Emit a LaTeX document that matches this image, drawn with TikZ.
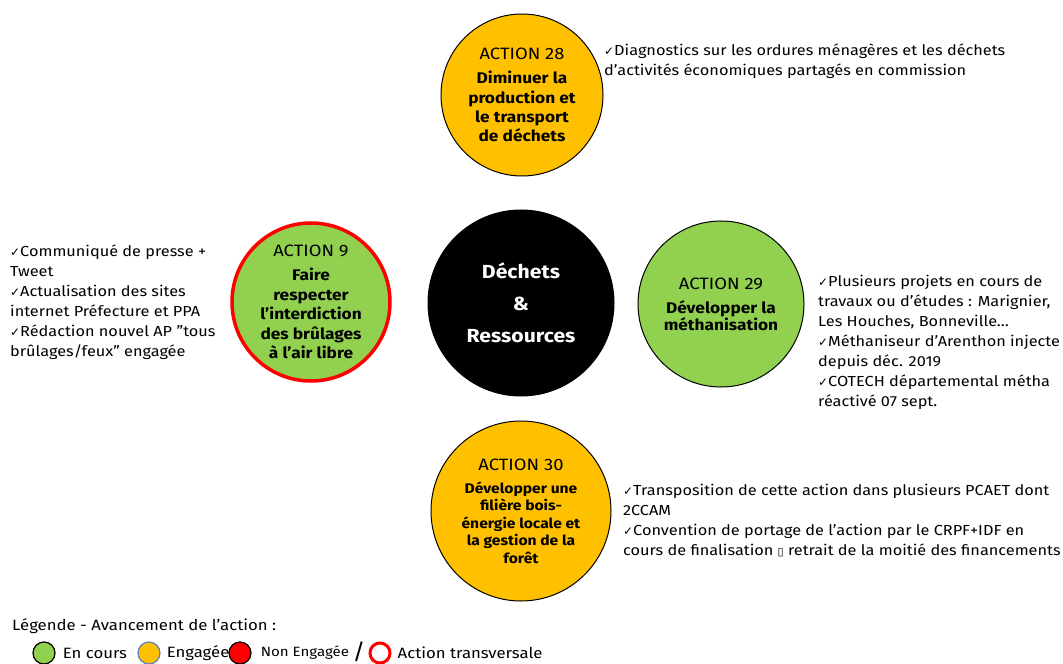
\documentclass[tikz,border=0pt]{standalone}
\usepackage{fontspec}
\setmainfont[FakeStretch=1.12]{Fira Sans}
\newfontfamily\symfont{DejaVu Sans}
\usetikzlibrary{positioning}

\definecolor{orang}{HTML}{FFC000}
\definecolor{vert}{HTML}{92D050}
\definecolor{rouge}{HTML}{FF0000}
\definecolor{bleu}{HTML}{5B7FC0}
\newcommand{\chk}{{\symfont\fontsize{12}{12}\selectfont ✓}}
\newcommand{\titre}[1]{{\fontsize{16.5}{19.5}\selectfont ACTION #1}}

\tikzset{
  action/.style={circle,draw=black,line width=1bp,inner sep=0pt,align=center,
    font=\fontsize{15.5}{19.5}\selectfont},
  info/.style={anchor=north west,inner sep=0pt,align=left,
    font=\fontsize{14.6}{20}\selectfont},
  pastille/.style={circle,inner sep=0pt,minimum size=22bp,line width=1.2bp},
  legende/.style={inner sep=0pt,font=\fontsize{15}{16}\selectfont},
}

\begin{document}
\begin{tikzpicture}[x=1bp,y=-1bp]
\useasboundingbox (0,0) rectangle (1063,664);

% le centre
\node[action,fill=black,minimum size=186bp,text=white,
  font=\bfseries\fontsize{19}{32}\selectfont] (0) at (521,303)
  {Déchets\\\&\\Ressources};

% les actions
\node[action,fill=orang,minimum size=162bp] (1) at (522,95)
  {\titre{28}\\[5bp]\textbf{Diminuer la}\\\textbf{production et}\\
   \textbf{le transport}\\\textbf{de déchets}};
\node[action,fill=vert,draw=rouge,line width=3.5bp,minimum size=158bp] (2) at (311,302)
  {\titre{9}\\[5bp]\textbf{Faire}\\\textbf{respecter}\\\textbf{l'interdiction}\\
   \textbf{des brûlages}\\\textbf{à l'air libre}};
\node[action,fill=vert,minimum size=166bp] (3) at (721,304)
  {\titre{29}\\[5bp]\textbf{Développer la}\\[-3bp]\textbf{méthanisation}};
\node[action,fill=orang,minimum size=180bp,font=\fontsize{14}{17.5}\selectfont] (4) at (521,511)
  {\titre{30}\\[6bp]\textbf{Développer une}\\\textbf{filière bois-}\\
   \textbf{énergie locale et}\\\textbf{la gestion de la}\\\textbf{forêt}};

% les avancements
\node[info] (1i) at (604,44)
  {\chk Diagnostics sur les ordures ménagères et les déchets\\
   d’activités économiques partagés en commission};
\node[info] (2i) at (10,245)
  {\chk Communiqué de presse +\\Tweet\\
   \chk Actualisation des sites\\internet Préfecture et PPA\\
   \chk Rédaction nouvel AP "tous\\brûlages/feux" engagée};
\node[info] (3i) at (818,275)
  {\chk Plusieurs projets en cours de\\travaux ou d'études : Marignier,\\
   Les Houches, Bonneville…\\
   \chk Méthaniseur d'Arenthon injecte\\depuis déc. 2019\\
   \chk COTECH départemental métha\\réactivé 07 sept.};
\node[info] (4i) at (623,484)
  {\chk Transposition de cette action dans plusieurs PCAET dont\\2CCAM\\
   \chk Convention de portage de l'action par le CRPF+IDF en\\
   cours de finalisation {\symfont\fontsize{11}{11}\selectfont ▯} retrait de la moitié des financements};

% la legende
\node[legende,anchor=north west] (5) at (12,618) {Légende - Avancement de l'action :};
\node[pastille,fill=vert,draw=black] (6) at (44,653) {};
\node[legende,right=7bp of 6] (6t) {En cours};
\node[pastille,fill=orang,draw=bleu] (7) at (149,653) {};
\node[legende,right=6bp of 7] (7t) {Engagée};
\node[pastille,fill=rouge,draw=black] (8) at (240,653) {};
\node[legende,right=9bp of 8,font=\fontsize{13.5}{15}\selectfont] (8t) {Non Engagée};
\node[legende,font=\fontsize{22}{22}\selectfont] (9s) at (359,652) {/};
\node[pastille,fill=white,draw=rouge,line width=3bp,minimum size=20bp] (9) at (380,653) {};
\node[legende,right=6bp of 9] (9t) {Action transversale};
\end{tikzpicture}
\end{document}
